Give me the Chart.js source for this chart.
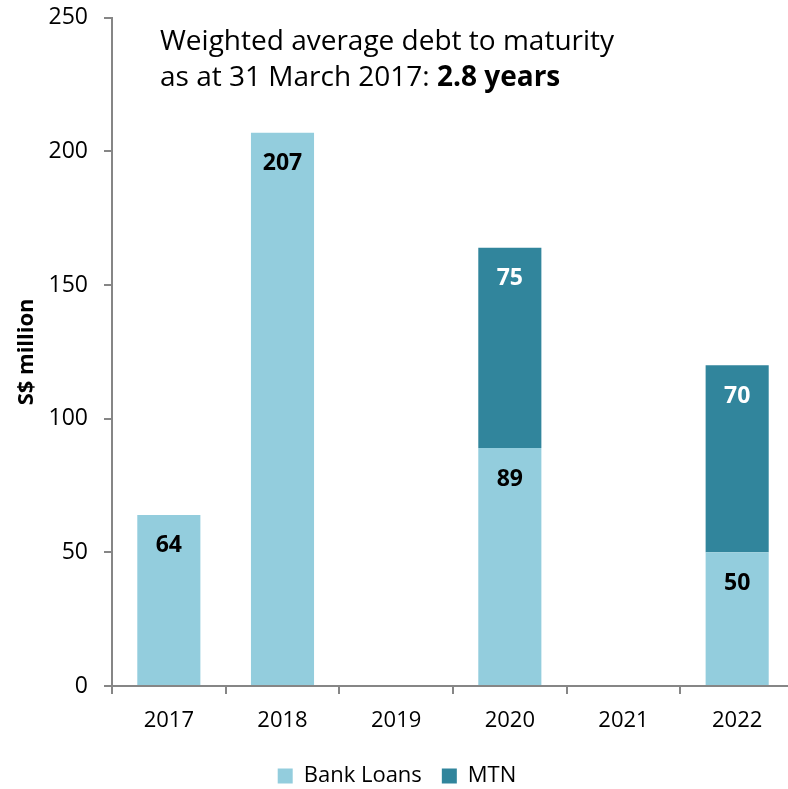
<!DOCTYPE html>
<html>
<head>
<meta charset="utf-8">
<script src="https://cdn.jsdelivr.net/npm/chart.js@4.4.0/dist/chart.umd.min.js"></script>
<style>
  html, body { margin: 0; padding: 0; background: #fff; overflow: hidden; }
  /* pull the canvas up so the plot starts close to the top edge */
  canvas { display: block; margin-top: -12px; }
</style>
</head>
<body>
<canvas id="myChart" width="800" height="809"></canvas>
<script>
var years = ['2017', '2018', '2019', '2020', '2021', '2022'];
var bank_loans = [64, 207, null, 89, null, 50];
var mtn = [null, null, null, 75, null, 70];
var y_ticks = [0, 50, 100, 150, 200, 250];

var FONT = "'Open Sans', 'DejaVu Sans', sans-serif";
var AXIS_GREY = '#868686';

// value labels near the top of each bar segment
var barLabels = {
    id: 'barLabels',
    afterDatasetsDraw: function(chart) {
        var c = chart.ctx;
        c.save();
        c.font = 'bold 23px ' + FONT;
        c.textAlign = 'center';
        c.textBaseline = 'middle';
        chart.data.datasets.forEach(function(ds, i) {
            var meta = chart.getDatasetMeta(i);
            meta.data.forEach(function(bar, j) {
                var v = ds.data[j];
                if (v === null || v === undefined) return;
                c.fillStyle = ds.labelColor;
                c.fillText(String(v), bar.x, bar.y + 31);
            });
        });
        c.restore();
    }
};

// two-line note in the upper part of the plot
var note = {
    id: 'note',
    afterDraw: function(chart) {
        var c = chart.ctx;
        var top = chart.chartArea.top;
        c.save();
        c.fillStyle = '#000';
        c.textBaseline = 'middle';
        c.textAlign = 'left';
        c.font = '28px ' + FONT;
        var x = 160;
        c.fillText('Weighted average debt to maturity', x, top + 24);
        var part = 'as at 31 March 2017: ';
        c.fillText(part, x, top + 60);
        var w = c.measureText(part).width;
        c.font = 'bold 28px ' + FONT;
        c.fillText('2.8 years', x + w, top + 60);
        c.restore();
    }
};

var ctx = document.getElementById('myChart');
var myChart = new Chart(ctx, {
    type: 'bar',
    data: {
        labels: years,
        datasets: [{
            label: 'Bank Loans',
            data: bank_loans,
            backgroundColor: '#93CDDD',
            labelColor: '#000000',
            barPercentage: 0.555,
            categoryPercentage: 1
        }, {
            label: 'MTN',
            data: mtn,
            backgroundColor: '#31859C',
            labelColor: '#FFFFFF',
            barPercentage: 0.555,
            categoryPercentage: 1
        }]
    },
    options: {
        responsive: false,
        animation: false,
        layout: {
            padding: { top: 0, right: 6, left: 0, bottom: 0 }
        },
        plugins: {
            tooltip: { enabled: false },
            legend: {
                position: 'bottom',
                labels: {
                    font: { family: FONT, size: 22 },
                    color: '#000',
                    boxWidth: 15,
                    boxHeight: 15,
                    padding: 20
                }
            }
        },
        scales: {
            x: {
                stacked: true,
                afterFit: function(scale) { scale.height = 59; },
                grid: {
                    display: true,
                    offset: true,
                    drawOnChartArea: false,
                    drawTicks: true,
                    tickLength: 8,
                    color: AXIS_GREY,
                    lineWidth: 2
                },
                border: { color: AXIS_GREY, width: 2 },
                ticks: {
                    font: { family: FONT, size: 22 },
                    color: '#000',
                    padding: 14
                }
            },
            y: {
                stacked: true,
                min: 0,
                max: 250,
                afterBuildTicks: function(scale) {
                    scale.ticks = y_ticks.map(function(v) { return { value: v }; });
                },
                afterFit: function(scale) { scale.width = 112; },
                grid: {
                    display: true,
                    drawOnChartArea: false,
                    drawTicks: true,
                    tickLength: 8,
                    color: AXIS_GREY,
                    lineWidth: 2
                },
                border: { color: AXIS_GREY, width: 2 },
                ticks: {
                    font: { family: FONT, size: 23 },
                    color: '#000',
                    padding: 16
                },
                title: {
                    display: true,
                    text: 'S$ million',
                    font: { family: FONT, size: 22, weight: 'bold' },
                    color: '#000',
                    padding: { top: 14, bottom: 0 }
                }
            }
        }
    },
    plugins: [barLabels, note]
});
</script>
</body>
</html>
